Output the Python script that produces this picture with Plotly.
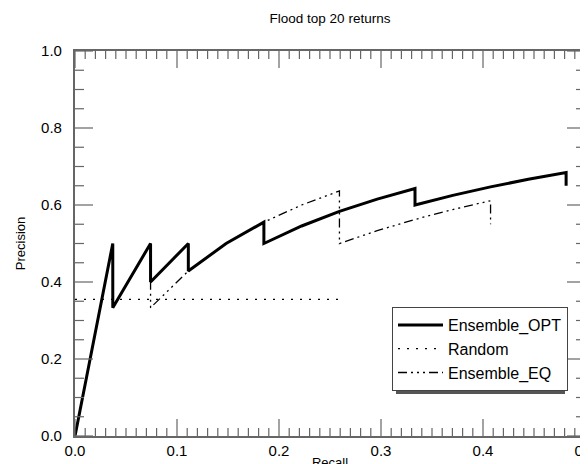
import plotly.graph_objects as go

# Data
opt_recall = [0.0, 1/27, 1/27, 2/27, 2/27, 3/27, 3/27, 4/27, 5/27, 5/27, 6/27, 7/27, 8/27, 9/27, 9/27, 10/27, 11/27, 12/27, 13/27, 13/27]
opt_precision = [0.0, 1/2, 1/3, 2/4, 2/5, 3/6, 3/7, 4/8, 5/9, 5/10, 6/11, 7/12, 8/13, 9/14, 9/15, 10/16, 11/17, 12/18, 13/19, 13/20]

rand_recall = [0.0, 0.26]
rand_precision = [0.355, 0.355]

eq_recall = [0.0, 1/27, 1/27, 2/27, 2/27, 2/27, 3/27, 4/27, 5/27, 6/27, 7/27, 7/27, 7/27, 7/27, 8/27, 9/27, 10/27, 11/27, 11/27, 11/27]
eq_precision = [0.0, 1/2, 1/3, 2/4, 2/5, 2/6, 3/7, 4/8, 5/9, 6/10, 7/11, 7/12, 7/13, 7/14, 8/15, 9/16, 10/17, 11/18, 11/19, 11/20]

x_range = [0, 0.5]
y_range = [0, 1.0]
x_major_ticks = [0.0, 0.1, 0.2, 0.3, 0.4, 0.5]
y_major_ticks = [0.0, 0.2, 0.4, 0.6, 0.8, 1.0]
x_minor_ticks = [i / 100 for i in range(1, 50) if i % 10]
y_minor_ticks = [i / 20 for i in range(1, 20) if i % 4]

fig = go.Figure()
fig.add_trace(go.Scatter(x=opt_recall, y=opt_precision, mode="lines", name="Ensemble_OPT",
                         line=dict(color="black", width=3)))
fig.add_trace(go.Scatter(x=rand_recall, y=rand_precision, mode="lines", name="Random",
                         line=dict(color="black", width=1.3, dash="2px,7px")))
fig.add_trace(go.Scatter(x=eq_recall, y=eq_precision, mode="lines", name="Ensemble_EQ",
                         line=dict(color="black", width=1.3, dash="9px,4px,2px,4px,2px,4px,2px,4px")))

L, R, T, B = 67, 11, 43, 36
W, H = 588, 464
pw, ph = W - L - R, H - T - B

def px(x):
    return (x - L) / pw

def py(y):
    return (H - B - y) / ph

FONT = "Liberation Sans, Arial"
GREY = "#666666"

# inward tick marks on all four sides (as thin line shapes)
shapes = []
for vals, length in ((x_major_ticks, 17), (x_minor_ticks, 8)):
    f = length / ph
    for v in vals:
        shapes.append(dict(type="line", xref="x", yref="paper", x0=v, x1=v, y0=0, y1=f,
                           line=dict(color=GREY, width=1.2), layer="above"))
        shapes.append(dict(type="line", xref="x", yref="paper", x0=v, x1=v, y0=1, y1=1 - f,
                           line=dict(color=GREY, width=1.2), layer="above"))
for vals, length in ((y_major_ticks, 18), (y_minor_ticks, 9)):
    f = length / pw
    for v in vals:
        shapes.append(dict(type="line", xref="paper", yref="y", x0=0, x1=f, y0=v, y1=v,
                           line=dict(color=GREY, width=1.2), layer="above"))
        shapes.append(dict(type="line", xref="paper", yref="y", x0=1, x1=1 - f, y0=v, y1=v,
                           line=dict(color=GREY, width=1.2), layer="above"))
# legend drop shadow
shapes.append(dict(type="rect", xref="paper", yref="paper",
                   x0=px(388), x1=px(557), y0=py(386), y1=py(303),
                   fillcolor="#555555", line=dict(width=0), layer="above"))

fig.update_layout(
    width=W, height=H,
    margin=dict(l=L, r=R, t=T, b=B),
    plot_bgcolor="white",
    title=dict(text="Flood top 20 returns", x=(L + pw / 2) / W, xanchor="center", y=1 - 10 / H, yanchor="middle",
               font=dict(family=FONT, size=13.5, color="black")),
    legend=dict(x=px(384), y=py(299), xanchor="left", yanchor="top",
                bgcolor="white", bordercolor="#444444", borderwidth=1,
                font=dict(family=FONT, size=16, color="black"),
                tracegroupgap=0, itemwidth=45),
    showlegend=True,
    xaxis=dict(range=x_range, showgrid=False, zeroline=False, showline=True, linecolor=GREY, linewidth=1.5,
               mirror=True, ticks="", automargin=False,
               tickmode="array", tickvals=x_major_ticks, ticktext=[f"{v:.1f}" for v in x_major_ticks],
               tickfont=dict(family=FONT, size=15, color="black"),
               title=dict(text="Recall", font=dict(family=FONT, size=13, color="black"), standoff=0)),
    yaxis=dict(range=y_range, showgrid=False, zeroline=False, showline=True, linecolor=GREY, linewidth=1.5,
               mirror=True, ticks="", automargin=False,
               tickmode="array", tickvals=y_major_ticks,
               ticktext=[f"{v:.1f}\u00a0\u00a0" for v in y_major_ticks],
               tickfont=dict(family=FONT, size=15, color="black"),
               title=dict(text="Precision", font=dict(family=FONT, size=13, color="black"), standoff=13)),
    shapes=shapes,
)

fig.write_html("out.html")
